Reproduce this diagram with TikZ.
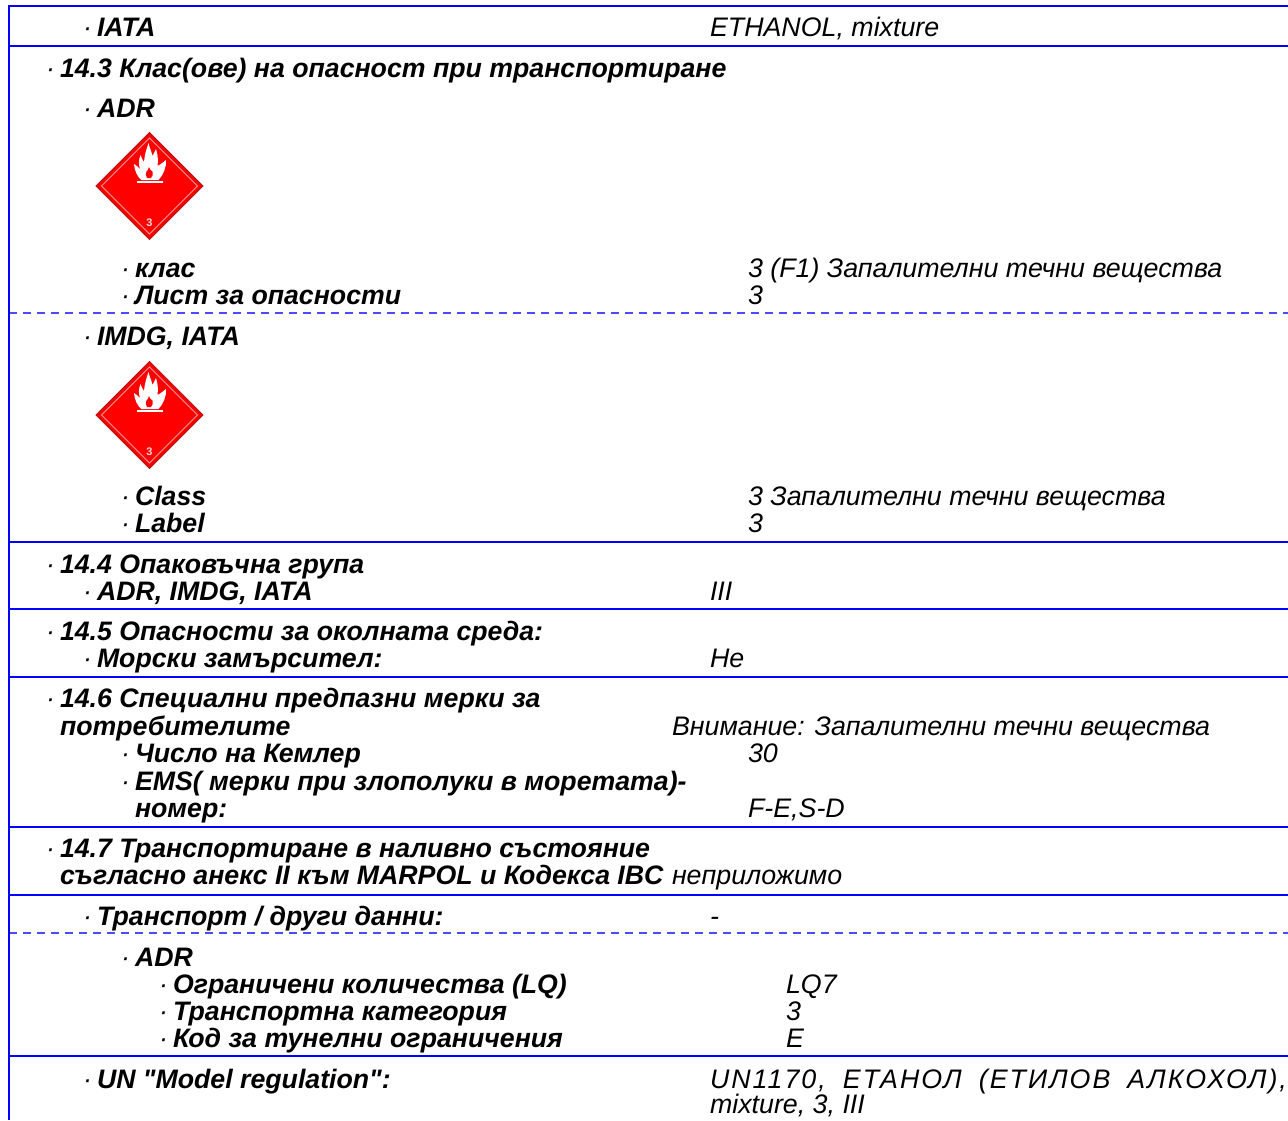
\documentclass[tikz,border=0pt]{standalone}
\usepackage{fontspec}
\usetikzlibrary{shapes.geometric}
\setmainfont[Ligatures=TeXOff]{Liberation Sans}
\definecolor{rule}{RGB}{0,0,255}
\definecolor{pl}{RGB}{255,0,0}
\definecolor{pld}{RGB}{190,20,20}
\definecolor{plw}{RGB}{255,150,150}
\newcommand{\fs}{\fontsize{26.8pt}{28pt}\selectfont}
\newcommand{\fb}{\fontsize{26.7pt}{28pt}\selectfont}
\tikzset{
  lab/.style={anchor=base west,inner sep=0pt,outer sep=0pt,yshift=-1pt,font=\fb\bfseries\itshape,text=black},
  val/.style={anchor=base west,inner sep=0pt,outer sep=0pt,yshift=-1pt,font=\fs\itshape,text=black},
  solidrule/.style={draw=rule,line width=2pt},
  dashrule/.style={draw=rule!70!white,line width=1.1pt,dash pattern=on 8pt off 6pt},
}
\newcommand{\dotp}{\llap{{\mdseries ·}\hspace{5pt}}}
\newcommand{\LB}[4]{\node[lab] (#1) at (#2,#3) {\dotp #4};}
\newcommand{\LC}[4]{\node[lab] (#1) at (#2,#3) {#4};}
\newcommand{\VL}[4]{\node[val] (#1) at (#2,#3) {#4};}
\newcommand{\placard}[3]{%
 \begin{scope}[shift={(#1,#2)}]
  \node[diamond,aspect=1,minimum size=107pt,inner sep=0pt,fill=pl,draw=pld,line width=1.2pt] (#3) at (0,0) {};
  \draw[plw,line width=0.8pt] (0,-48)--(48,0)--(0,48)--(-48,0)--cycle;
  \fill[white] (-8,-6) .. controls (-12,-9) and (-15,-15) .. (-15.5,-22)
    .. controls (-13,-20) and (-11,-19) .. (-9.5,-17)
    .. controls (-11,-22) and (-11,-26) .. (-9,-31)
    .. controls (-8,-28) and (-7,-26) .. (-5.5,-24)
    .. controls (-5,-31) and (-3,-37) .. (-1,-43)
    .. controls (0,-38) and (2,-35) .. (3,-30)
    .. controls (4,-32) and (5,-34) .. (6.5,-37)
    .. controls (8,-32) and (9,-27) .. (8,-20)
    .. controls (10,-21) and (13,-23) .. (16.5,-26)
    .. controls (17,-19) and (14,-11) .. (9,-6) -- cycle;
  \fill[pl] (-0.5,-19) .. controls (0,-16.5) and (1.5,-15.5) .. (3,-14.5)
    .. controls (4,-12) and (3,-9.5) .. (1.5,-8) -- (-2.5,-8)
    .. controls (-4,-10) and (-4,-12.5) .. (-3,-14.5) .. controls (-2,-15.5) and (-1,-16.5) .. (-0.5,-19) -- cycle;
  \fill[white] (-13,-5) rectangle (13,-3.5);
  \node[inner sep=0pt,text=white!85!pl,font=\fontsize{11pt}{11pt}\selectfont\bfseries] (#3n) at (0,37) {3};
 \end{scope}}
\begin{document}
\begin{tikzpicture}[x=1pt,y=-1pt]
\useasboundingbox[fill=white] (0,0) rectangle (1288,1120);
% rules
\foreach \y in {5.5,45.5,541.5,608.5,676.5,826.5,895,1055.5}
  \draw[solidrule] (8,\y) -- (1288,\y);
\foreach \y in {313,933}
  \draw[dashrule] (9,\y) -- (1288,\y);
\draw[solidrule] (8.5,5) -- (8.5,1120);
% text
\LB{a1}{97}{35.3}{IATA}
\VL{a2}{710}{35.3}{ETHANOL, mixture}
\LB{b1}{60}{76.4}{14.3 Клас(ове) на опасност при транспортиране}
\LB{b2}{97}{116}{ADR}
\placard{149.5}{186}{p1}
\LB{b3}{135}{276}{клас}
\VL{b4}{748}{276}{3 (F1) Запалителни течни вещества}
\LB{b5}{135}{303}{Лист за опасности}
\VL{b6}{748}{303}{3}
\LB{c1}{97}{344.4}{IMDG, IATA}
\placard{149.5}{415}{p2}
\LB{c2}{135}{504}{Class}
\VL{c3}{748}{504}{3 Запалителни течни вещества}
\LB{c4}{135}{531}{Label}
\VL{c5}{748}{531}{3}
\LB{d1}{60}{572}{14.4 Опаковъчна група}
\LB{d2}{97}{599}{ADR, IMDG, IATA}
\VL{d3}{710}{599}{III}
\LB{e1}{60}{639}{14.5 Опасности за околната среда:}
\LB{e2}{97}{666}{Морски замърсител:}
\VL{e3}{710}{666}{Не}
\LB{f1}{60}{706.5}{14.6 Специални предпазни мерки за}
\LC{f2}{60}{734}{потребителите}
\VL{f3}{672}{734}{Внимание: Запалителни течни вещества}
\LB{f4}{135}{761}{Число на Кемлер}
\VL{f5}{748}{761}{30}
\LB{f6}{135}{789}{EMS( мерки при злополуки в моретата)-}
\LC{f7}{135}{816}{номер:}
\VL{f8}{748}{816}{F-E,S-D}
\LB{g1}{60}{856}{14.7 Транспортиране в наливно състояние}
\LC{g2}{60}{883}{съгласно анекс II към MARPOL и Кодекса IBC}
\VL{g3}{672}{883}{неприложимо}
\LB{h1}{97}{924}{Транспорт / други данни:}
\VL{h2}{710}{924}{-}
\LB{i1}{135}{965}{ADR}
\LB{i2}{173}{992}{Ограничени количества (LQ)}
\VL{i3}{786}{992}{LQ7}
\LB{i4}{173}{1019}{Транспортна категория}
\VL{i5}{786}{1019}{3}
\LB{i6}{173}{1046}{Код за тунелни ограничения}
\VL{i7}{786}{1046}{E}
\LB{j1}{97}{1087}{UN "Model regulation":}
\node[val] (j2) at (710,1087) {\addfontfeature{LetterSpace=7.5}UN1170,\hspace{7.6pt} ЕТАНОЛ\hspace{7.6pt} (ЕТИЛОВ\hspace{7.6pt} АЛКОХОЛ),};
\VL{j3}{710}{1112.5}{mixture, 3, III}
\end{tikzpicture}
\end{document}
